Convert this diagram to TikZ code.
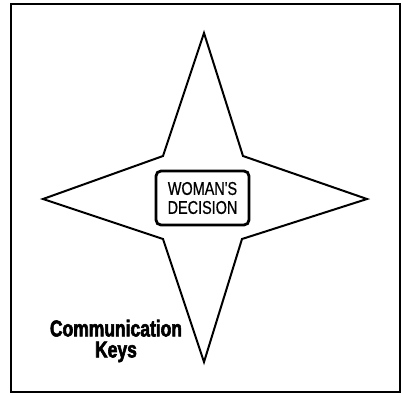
\documentclass[tikz,border=0pt]{standalone}
\usepackage{fontspec}
\setmainfont{Liberation Sans}
\newfontfamily\keysfont[FakeBold=2.5,FakeStretch=0.76]{Liberation Sans Bold}
\newfontfamily\decfont[FakeBold=0.6,FakeStretch=0.78]{Liberation Sans}
\begin{document}
\begin{tikzpicture}[x=1pt,y=-1pt,
  frame/.style={draw=black,line width=2pt},
  starline/.style={draw=black,line width=2pt,line join=miter,fill=white},
  decbox/.style={draw=black,line width=2.8pt,rounded corners=5pt,fill=white,minimum width=93pt,minimum height=54pt,inner sep=0pt,align=center,font=\decfont\fontsize{18.5}{19}\selectfont},
  keystext/.style={align=center,font=\keysfont\fontsize{23}{21}\selectfont,inner sep=0pt}]
\useasboundingbox (0,0) rectangle (404,394);
\draw[frame] (11,4) rectangle (400,392);
\draw[starline] (204,33) -- (243,156) -- (367,199) -- (242,239) -- (204,362) -- (163,239) -- (43,199) -- (163,156) -- cycle;
\node[decbox] (dec) at (202.5,198) {WOMAN'S\\DECISION};
\node[keystext] (keys) at (116,341) {Communication\\Keys};
\end{tikzpicture}
\end{document}
